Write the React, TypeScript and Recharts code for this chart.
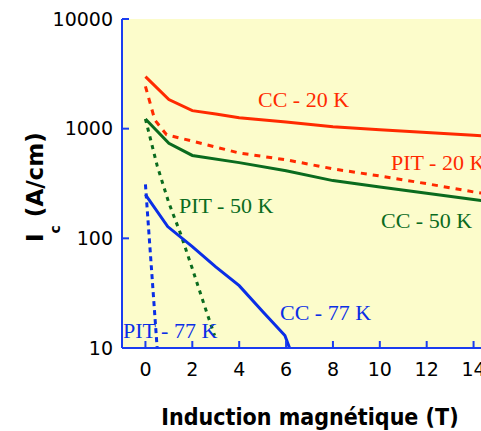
import { LineChart, Line, XAxis, YAxis, CartesianGrid } from 'recharts';

// Ic (A/cm) vs B (T), log scale
const cc20X = [0, 1, 2, 3, 4, 6, 8, 10, 12, 14, 15];
const cc20Y = [2980, 1840, 1460, 1360, 1260, 1150, 1040, 980, 925, 870, 850];

const pit20X = [0, 0.4, 0.9, 2, 4, 6, 8, 10, 12, 14, 15];
const pit20Y = [2430, 1200, 880, 770, 600, 520, 430, 370, 315, 265, 245];

const cc50X = [0, 1, 2, 4, 6, 8, 10, 12, 14, 15];
const cc50Y = [1225, 735, 570, 490, 413, 336, 294, 258, 226, 212];

const pit50X = [0, 0.5, 1, 1.5, 2, 2.5, 2.95];
const pit50Y = [1225, 460, 210, 110, 53, 25, 13];

const cc77X = [0, 0.95, 2, 3, 4, 5, 5.95, 6.15];
const cc77Y = [250, 128, 84, 55, 37, 21.5, 13, 10];

const pit77X = [0, 0.5];
const pit77Y = [310, 10];

const xTicks = [0, 2, 4, 6, 8, 10, 12, 14];
const yTicks = [10, 100, 1000, 10000];

const seriesLabels = ['CC - 20 K', 'PIT - 20 K', 'CC - 50 K', 'PIT - 50 K', 'CC - 77 K', 'PIT - 77 K'];

const RED = '#ff2a00';
const GREEN = '#0a6b1e';
const BLUE = '#0a2ee6';
const AXIS = '#1a3cf0';

const toRows = (xs: number[], ys: number[]) => xs.map((x, i) => ({ x, y: ys[i] }));

const tickStyle = { fill: '#000', fontSize: 19, fontFamily: 'DejaVu Sans' };

export default function App() {
  return (
    <>
      {/* the figure runs off the right edge of the page, like the original crop */}
      <style>{'body{margin-right:0}'}</style>
      <div style={{ position: 'relative', width: 473, height: 423, overflow: 'hidden' }}>
        <LineChart width={495} height={423} margin={{ top: 11, right: 6, bottom: 0, left: 0 }}>
          <CartesianGrid horizontal={false} vertical={false} fill="#fcfccb" stroke="none" />
          <XAxis
            xAxisId="b"
            dataKey="x"
            type="number"
            domain={[-1, 15]}
            ticks={xTicks}
            allowDataOverflow
            height={83}
            stroke={AXIS}
            strokeWidth={2}
            tickSize={-7}
            tickMargin={22}
            tickLine={{ stroke: AXIS, strokeWidth: 2 }}
            tick={tickStyle}
          />
          <XAxis
            xAxisId="t"
            orientation="top"
            dataKey="x"
            type="number"
            domain={[-1, 15]}
            ticks={xTicks}
            height={0}
            stroke={AXIS}
            strokeWidth={2}
            tickSize={-7}
            tickLine={{ stroke: AXIS, strokeWidth: 2 }}
            tick={false}
          />
          <YAxis
            dataKey="y"
            scale="log"
            domain={[10, 10000]}
            ticks={yTicks}
            allowDataOverflow
            width={114}
            stroke={AXIS}
            strokeWidth={2}
            tickSize={-7}
            tickMargin={16}
            tickLine={{ stroke: AXIS, strokeWidth: 2 }}
            tick={tickStyle}
          />
          <Line xAxisId="b" data={toRows(cc20X, cc20Y)} dataKey="y" name={seriesLabels[0]} stroke={RED} strokeWidth={3} dot={false} isAnimationActive={false} />
          <Line xAxisId="b" data={toRows(pit20X, pit20Y)} dataKey="y" name={seriesLabels[1]} stroke={RED} strokeWidth={3} strokeDasharray="6 6" dot={false} isAnimationActive={false} />
          <Line xAxisId="b" data={toRows(cc50X, cc50Y)} dataKey="y" name={seriesLabels[2]} stroke={GREEN} strokeWidth={3} dot={false} isAnimationActive={false} />
          <Line xAxisId="b" data={toRows(pit50X, pit50Y)} dataKey="y" name={seriesLabels[3]} stroke={GREEN} strokeWidth={3} strokeDasharray="4 5" dot={false} isAnimationActive={false} />
          <Line xAxisId="b" data={toRows(cc77X, cc77Y)} dataKey="y" name={seriesLabels[4]} stroke={BLUE} strokeWidth={3} dot={false} isAnimationActive={false} />
          <Line xAxisId="b" data={toRows(pit77X, pit77Y)} dataKey="y" name={seriesLabels[5]} stroke={BLUE} strokeWidth={3} strokeDasharray="5 4" dot={false} isAnimationActive={false} />
        </LineChart>
        {/* curve labels and axis titles on top of the chart */}
        <svg width={473} height={423} style={{ position: 'absolute', left: 0, top: 0, pointerEvents: 'none' }}>
          <g fontFamily="Liberation Serif" fontSize={22}>
            <text x={250} y={99} fill={RED}>{seriesLabels[0]}</text>
            <text x={383} y={162} fill={RED}>{seriesLabels[1]}</text>
            <text x={373} y={220} fill={GREEN}>{seriesLabels[2]}</text>
            <text x={171} y={205} fill={GREEN}>{seriesLabels[3]}</text>
            <text x={272} y={312} fill={BLUE}>{seriesLabels[4]}</text>
            <text x={115} y={330} fill={BLUE}>{seriesLabels[5]}</text>
          </g>
          <text x={302} y={417} textAnchor="middle" fontFamily="DejaVu Sans Condensed, DejaVu Sans" fontWeight="bold" fontSize={23} fill="#000">
            Induction magnétique (T)
          </text>
          <text transform="translate(35,234) rotate(-90)" fontFamily="DejaVu Sans" fontWeight="bold" fontSize={23} fill="#000">
            <tspan>I</tspan>
            <tspan fontSize={14} dy={17}>c</tspan>
            <tspan dy={-17} dx={8}>(A/cm)</tspan>
          </text>
        </svg>
      </div>
    </>
  );
}
